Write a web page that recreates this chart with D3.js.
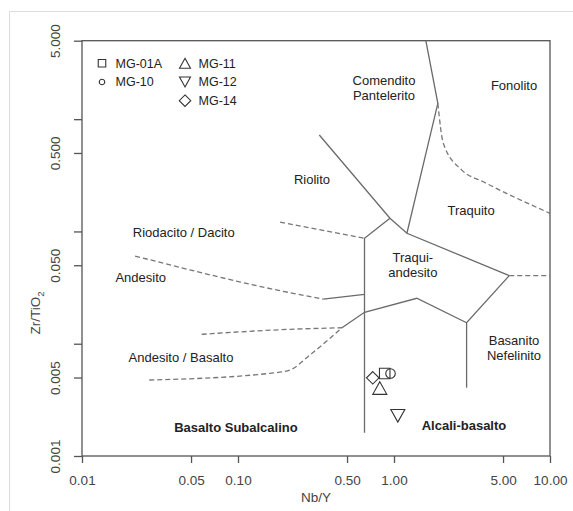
<!DOCTYPE html>
<html>
<head>
<meta charset="utf-8">
<script src="https://cdn.jsdelivr.net/npm/d3@7"></script>
<style>
  body { margin: 0; background: #fff; }
  svg { display: block; font-family: "Liberation Sans", Arial, sans-serif; }
</style>
</head>
<body>
<svg id="chart" width="573" height="511"></svg>
<script>
// axis ticks
const xTicks = [0.01, 0.05, 0.1, 0.5, 1, 5, 10]
const yTicks = [0.001, 0.005, 0.01, 0.05, 0.1, 0.5, 1, 5]
const yLabeled = [0.001, 0.005, 0.05, 0.5, 5]

// samples (Nb/Y, Zr/TiO2)
const samples = ["MG-01A", "MG-10", "MG-11", "MG-12", "MG-14"]
const sampleNbY = [0.872, 0.950, 0.811, 1.058, 0.731]
const sampleZrTi = [0.00543, 0.00543, 0.00403, 0.00228, 0.00497]
const sampleShape = ["square", "circle", "triangle", "triangleDown", "diamond"]

// field boundaries, [Nb/Y, Zr/TiO2]
const solidLines = [
  [[1.60, 5], [1.91, 1.385], [1.21, 0.0964]],
  [[0.332, 0.723], [0.942, 0.131], [1.21, 0.0964], [5.48, 0.0404]],
  [[0.942, 0.131], [0.647, 0.0869], [0.647, 0.00161]],
  [[0.352, 0.025], [0.647, 0.0275]],
  [[0.464, 0.01387], [0.647, 0.01905], [1.40, 0.0254], [2.92, 0.01538], [5.48, 0.0404]],
  [[2.92, 0.01538], [2.92, 0.00406]]
]
const dashedLines = [
  [[0.186, 0.121], [0.647, 0.0869]],
  [[0.0219, 0.0604], [0.215, 0.0285], [0.352, 0.025]],
  [[0.0585, 0.01213], [0.215, 0.01344], [0.464, 0.01387]],
  [[0.027, 0.00475], [0.160, 0.00545], [0.215, 0.00583], [0.289, 0.00794], [0.389, 0.01117], [0.464, 0.01387]],
  [[1.91, 1.385], [2.07, 0.610], [2.72, 0.352], [3.74, 0.277], [10, 0.145]],
  [[5.48, 0.0404], [10, 0.0404]]
]

// field names
const fieldNames = [
  ["Comendito", "Pantelerito"], ["Fonolito"], ["Riolito"], ["Traquito"],
  ["Riodacito / Dacito"], ["Traqui-", "andesito"], ["Andesito"],
  ["Andesito / Basalto"], ["Basanito", "Nefelinito"],
  ["Basalto Subalcalino"], ["Alcali-basalto"]
]
const fieldNbY = [0.863, 5.88, 0.298, 3.12, 0.0449, 1.32, 0.0238, 0.0431, 5.88, 0.097, 2.81]
const fieldZrTi = [2.23, 1.98, 0.293, 0.153, 0.0989, 0.0589, 0.0387, 0.00757, 0.0108, 0.0018, 0.00186]
const fieldBold = [false, false, false, false, false, false, false, false, false, true, true]

const plotLeft = 82, plotRight = 550, plotTop = 40.7, plotBottom = 456

const svg = d3.select("#chart")

// light frame round the figure
svg.append("path")
  .attr("d", "M9.5,511V11.5H573")
  .attr("fill", "none")
  .attr("stroke", "#dcdcdc")

const x = d3.scaleLog().domain([0.01, 10]).range([plotLeft, plotRight])
const y = d3.scaleLog().domain([0.001, 5]).range([plotBottom, plotTop])

/* plot box */
svg.append("rect")
  .attr("x", plotLeft).attr("y", plotTop)
  .attr("width", plotRight - plotLeft).attr("height", plotBottom - plotTop)
  .attr("fill", "none")
  .attr("stroke", "#555")
  .attr("stroke-width", 1.3)

const xAxis = svg.append("g")
  .attr("transform", "translate(0," + plotBottom + ")")
  .call(d3.axisBottom(x)
    .tickValues(xTicks)
    .tickFormat(d3.format(".2f"))
    .tickSizeInner(7).tickSizeOuter(0)
    .tickPadding(12))
xAxis.select(".domain").remove()
xAxis.selectAll("line").attr("stroke", "#555").attr("stroke-width", 1.3)
xAxis.selectAll("text")
  .attr("fill", "#444")
  .style("font-size", "13.5px")
  .style("font-family", "Liberation Sans, Arial, sans-serif")

const yAxis = svg.append("g")
  .attr("transform", "translate(" + plotLeft + ",0)")
  .call(d3.axisLeft(y)
    .tickValues(yTicks)
    .tickFormat(d => yLabeled.includes(d) ? d3.format(".3f")(d) : "")
    .tickSizeInner(8).tickSizeOuter(0))
yAxis.select(".domain").remove()
yAxis.selectAll("line").attr("stroke", "#555").attr("stroke-width", 1.3)
yAxis.selectAll("text")
  .attr("transform", "rotate(-90)")
  .attr("x", 0).attr("y", -27).attr("dy", "0.35em")
  .attr("text-anchor", "middle")
  .attr("fill", "#444")
  .style("font-size", "13.5px")
  .style("font-family", "Liberation Sans, Arial, sans-serif")

svg.append("text")
  .attr("x", (plotLeft + plotRight) / 2).attr("y", 502)
  .attr("text-anchor", "middle")
  .attr("fill", "#444")
  .style("font-size", "13.5px")
  .text("Nb/Y")

const yTitle = svg.append("text")
  .attr("transform", "translate(40,313) rotate(-90)")
  .attr("text-anchor", "middle")
  .attr("fill", "#444")
  .style("font-size", "13.5px")
yTitle.append("tspan").text("Zr/TiO")
yTitle.append("tspan").attr("dy", 4).style("font-size", "9.5px").text("2")

/* boundaries */
const line = d3.line()
  .x(d => x(d[0]))
  .y(d => y(d[1]))

svg.append("g").selectAll("path")
  .data(solidLines)
  .enter().append("path")
    .attr("d", line)
    .attr("fill", "none")
    .attr("stroke", "#6a6a6a")
    .attr("stroke-width", 1.3)

svg.append("g").selectAll("path")
  .data(dashedLines)
  .enter().append("path")
    .attr("d", line.curve(d3.curveMonotoneX))
    .attr("fill", "none")
    .attr("stroke", "#777")
    .attr("stroke-width", 1.3)
    .attr("stroke-dasharray", "5,3")

/* field names */
const names = svg.append("g").selectAll("text")
  .data(fieldNames)
  .enter().append("text")
    .attr("x", (d, i) => x(fieldNbY[i]))
    .attr("y", (d, i) => y(fieldZrTi[i]))
    .attr("text-anchor", "middle")
    .attr("fill", "#222")
    .style("font-size", "13px")
    .style("font-weight", (d, i) => fieldBold[i] ? "bold" : "normal")

names.selectAll("tspan")
  .data(d => d)
  .enter().append("tspan")
    .attr("x", function () { return this.parentNode.getAttribute("x") })
    .attr("dy", (d, j) => j === 0 ? "0.35em" : "1.2em")
    .text(d => d)

/* marker shapes */
function shapePath(shape, s) {
  const h = s / 2
  if (shape === "square") return "M" + -h + "," + -h + "h" + s + "v" + s + "h" + -s + "Z"
  if (shape === "circle") return "M" + h + ",0A" + h + "," + h + " 0 1,1 " + -h + ",0A" + h + "," + h + " 0 1,1 " + h + ",0Z"
  if (shape === "triangle") return "M0," + -h * 0.9 + "L" + h + "," + h * 0.9 + "L" + -h + "," + h * 0.9 + "Z"
  if (shape === "triangleDown") return "M0," + h * 0.9 + "L" + h + "," + -h * 0.9 + "L" + -h + "," + -h * 0.9 + "Z"
  return "M0," + -h + "L" + h + ",0L0," + h + "L" + -h + ",0Z"
}
const plotSize = { square: 10.5, circle: 9.5, triangle: 14, triangleDown: 14, diamond: 12.5 }
const legendSize = { square: 7.5, circle: 5.5, triangle: 11, triangleDown: 11, diamond: 11.5 }

svg.append("g").selectAll("path")
  .data(samples)
  .enter().append("path")
    .attr("transform", (d, i) => "translate(" + x(sampleNbY[i]) + "," + y(sampleZrTi[i]) + ")")
    .attr("d", (d, i) => shapePath(sampleShape[i], plotSize[sampleShape[i]]))
    .attr("fill", "none")
    .attr("stroke", "#333")
    .attr("stroke-width", 1.1)

/* legend */
const legendPos = [[102, 63.3], [102, 82], [185, 63.3], [185, 82], [185, 100.7]]
const legend = svg.append("g").selectAll("g")
  .data(samples)
  .enter().append("g")
    .attr("transform", (d, i) => "translate(" + legendPos[i][0] + "," + legendPos[i][1] + ")")
legend.append("path")
  .attr("d", (d, i) => shapePath(sampleShape[i], legendSize[sampleShape[i]]))
  .attr("fill", "none")
  .attr("stroke", "#333")
  .attr("stroke-width", 1.1)
legend.append("text")
  .attr("x", 13.5).attr("dy", "0.35em")
  .attr("fill", "#222")
  .style("font-size", "12.5px")
  .text(d => d)
</script>
</body>
</html>
